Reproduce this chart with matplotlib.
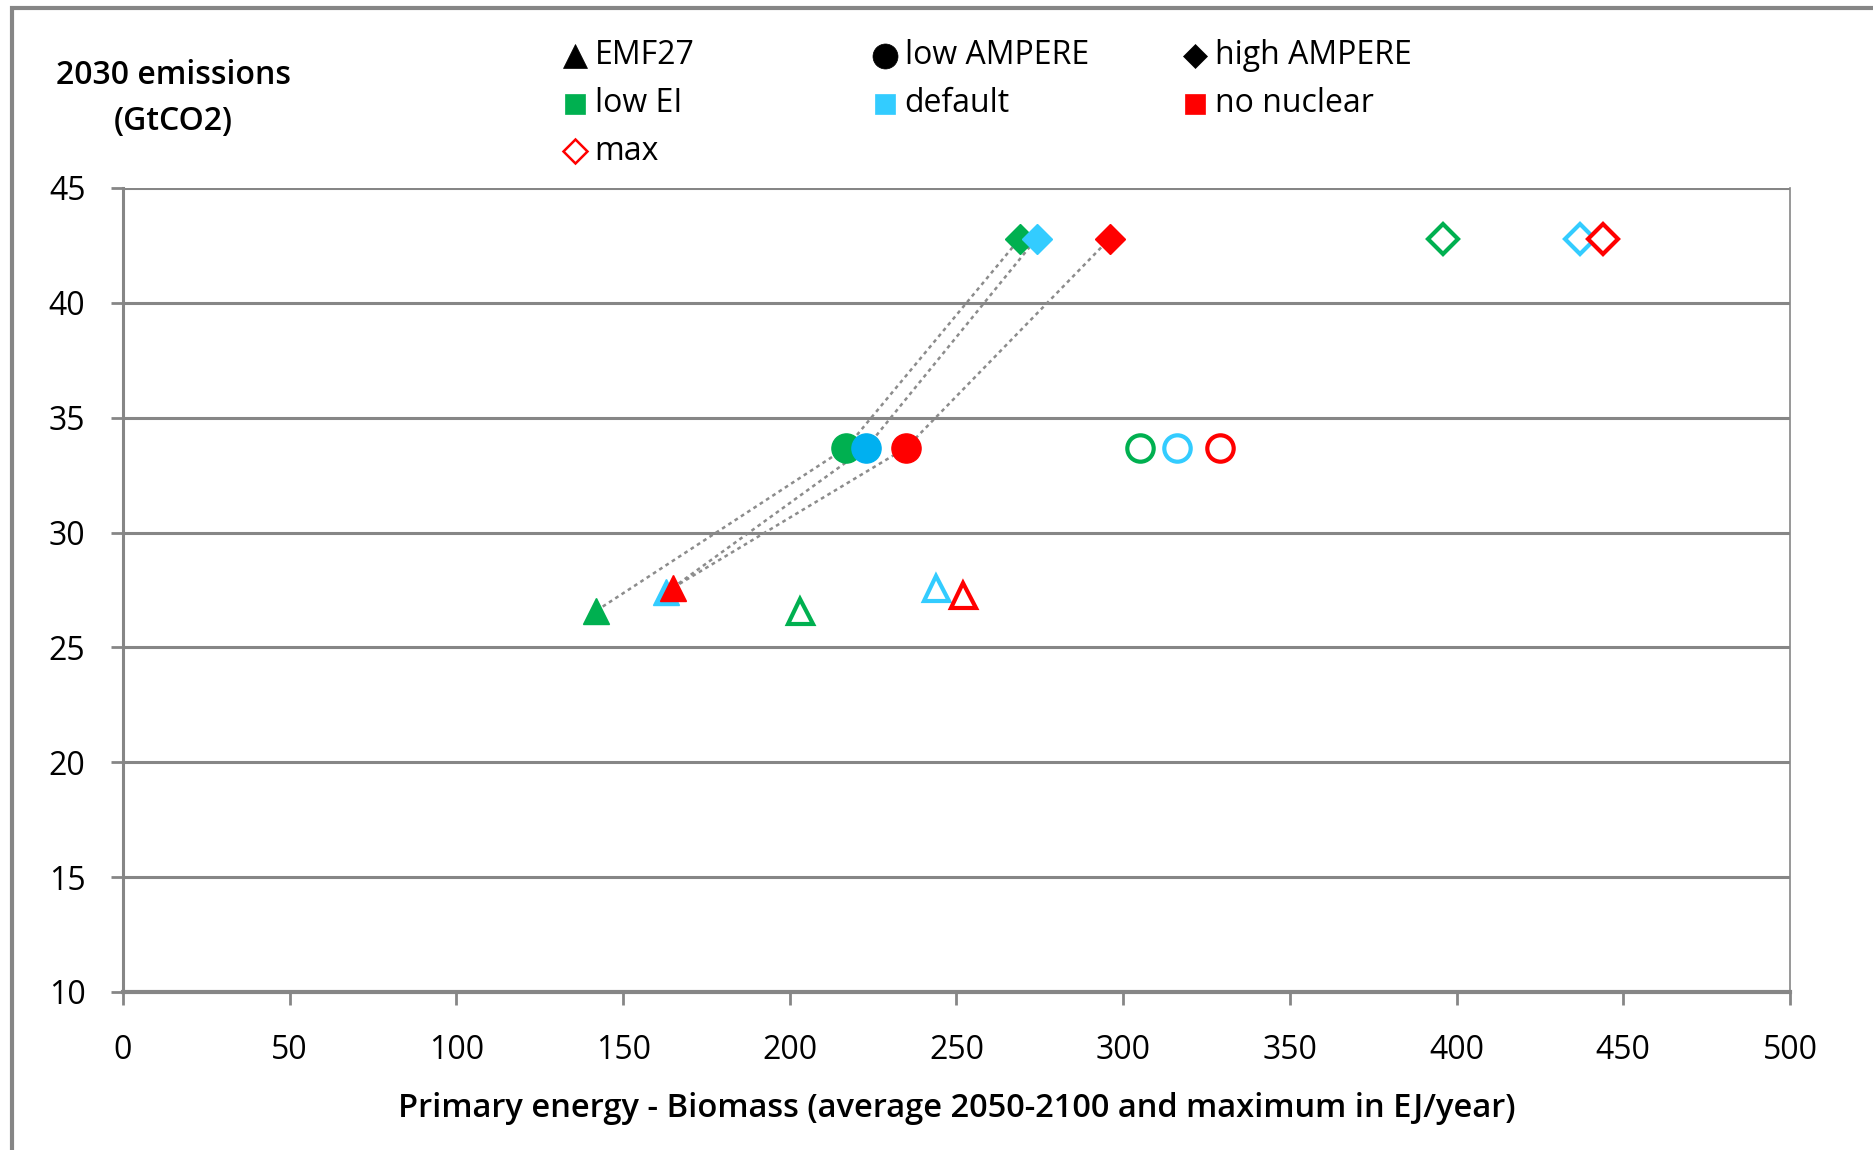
#!/usr/bin/env python3
# -*- coding: utf-8 -*-

import matplotlib
matplotlib.use("Agg")
import matplotlib.pyplot as plt
from matplotlib.lines import Line2D
from matplotlib.patches import Rectangle

plt.rcParams['font.family'] = ['Open Sans', 'DejaVu Sans']

# scenarios (colour groups)
scenarios = ['low EI', 'default', 'no nuclear']
colors = ['#00B050', '#33CCFF', '#FF0000']
circle_fill = ['#00B050', '#00B0F0', '#FF0000']

# 2030 emissions (GtCO2) per model
y_emf27 = [26.6, 27.4, 27.6]
y_low_ampere = [33.7, 33.7, 33.7]
y_high_ampere = [42.8, 42.8, 42.8]
y_emf27_max = [26.6, 27.6, 27.3]

# biomass primary energy, average 2050-2100 (EJ/yr)
avg_emf27 = [142, 163, 165]
avg_low_ampere = [217, 223, 235]
avg_high_ampere = [269, 274, 296]

# biomass primary energy, maximum (EJ/yr)
max_emf27 = [203, 244, 252]
max_low_ampere = [305, 316, 329]
max_high_ampere = [396, 437, 444]

xticks = [0, 50, 100, 150, 200, 250, 300, 350, 400, 450, 500]
yticks = [10, 15, 20, 25, 30, 35, 40, 45]

FS = 23

fig = plt.figure(figsize=(18.74, 11.5), dpi=100)
ax = fig.add_axes([123 / 1874, 1 - 992 / 1150, (1790 - 123) / 1874, (992 - 188) / 1150])

# outer frame (cut at right and bottom like the original)
fig.patches.append(Rectangle((12 / 1874, -0.1), 1.2, 1 - 8 / 1150 + 0.1,
                             transform=fig.transFigure, fill=False,
                             edgecolor='#868686', linewidth=3, zorder=0))

# connecting dotted lines
for i in range(3):
    ax.plot([avg_emf27[i], avg_low_ampere[i], avg_high_ampere[i]],
            [y_emf27[i], y_low_ampere[i], y_high_ampere[i]],
            color='#8c8c8c', linestyle=(0, (1.5, 1.5)), linewidth=1.8, zorder=2)

for i in range(3):
    c = colors[i]
    # averages (filled)
    ax.plot(avg_emf27[i], y_emf27[i], marker='^', markersize=19, color=c,
            linestyle='none', zorder=4 - 0.1 * (i == 1))
    ax.plot(avg_low_ampere[i], y_low_ampere[i], marker='o', markersize=21,
            color=circle_fill[i], linestyle='none', zorder=4)
    ax.plot(avg_high_ampere[i], y_high_ampere[i], marker='D', markersize=15,
            color=c, linestyle='none', zorder=4)
    # maxima (open)
    ax.plot(max_emf27[i], y_emf27_max[i], marker='^', markersize=18,
            markerfacecolor='white', markeredgecolor=c, markeredgewidth=3,
            linestyle='none', zorder=4)
    ax.plot(max_low_ampere[i], y_low_ampere[i], marker='o', markersize=19,
            markerfacecolor='white', markeredgecolor=c, markeredgewidth=3,
            linestyle='none', zorder=4)
    ax.plot(max_high_ampere[i], y_high_ampere[i], marker='D', markersize=15,
            markerfacecolor='white', markeredgecolor=c, markeredgewidth=3,
            linestyle='none', zorder=4)

ax.set_xlim(0, 500)
ax.set_ylim(10, 45)
ax.set_xticks(xticks)
ax.set_yticks(yticks)
ax.grid(axis='y', color='#868686', linewidth=2.2)
ax.set_axisbelow(True)
for s in ['left', 'bottom', 'right']:
    ax.spines[s].set_color('#868686')
ax.spines['left'].set_linewidth(2.2)
ax.spines['bottom'].set_linewidth(3)
ax.spines['right'].set_linewidth(1.2)
ax.spines['top'].set_visible(False)
ax.tick_params(axis='both', colors='#868686', labelcolor='black', labelsize=FS,
               width=2, length=9, direction='out')
ax.tick_params(axis='y', pad=18)
ax.tick_params(axis='x', pad=21)

ax.set_xlabel('Primary energy - Biomass (average 2050-2100 and maximum in EJ/year)',
              fontsize=FS + 0.5, fontweight='semibold', labelpad=18)
fig.text(173 / 1874, 1 - 75 / 1150, '2030 emissions', ha='center', va='center',
         fontsize=FS, fontweight='semibold')
fig.text(173 / 1874, 1 - 121 / 1150, '(GtCO2)', ha='center', va='center',
         fontsize=FS, fontweight='semibold')

# legend built by hand, three columns
leg_items = [
    ('^', 'black', 'black', 'EMF27', 0, 0),
    ('o', 'black', 'black', 'low AMPERE', 1, 0),
    ('D', 'black', 'black', 'high AMPERE', 2, 0),
    ('s', colors[0], colors[0], 'low EI', 0, 1),
    ('s', colors[1], colors[1], 'default', 1, 1),
    ('s', colors[2], colors[2], 'no nuclear', 2, 1),
    ('D', 'white', '#FF0000', 'max', 0, 2),
]
col_x = [575, 885, 1195]
row_y = [56, 104, 151]
for mk, fc, ec, lab, col, row in leg_items:
    xf = col_x[col] / 1874
    yf = 1 - row_y[row] / 1150
    ms = {'^': 17, 'o': 18, 'D': 12, 's': 15}[mk]
    fig.add_artist(Line2D([xf], [yf], marker=mk, markersize=ms,
                          markerfacecolor=fc, markeredgecolor=ec,
                          markeredgewidth=1.8 if fc == 'white' else 0.5,
                          transform=fig.transFigure))
    fig.text(xf + 0.0105, yf, lab, ha='left', va='center', fontsize=FS)

fig.savefig('out.png', dpi=100)
